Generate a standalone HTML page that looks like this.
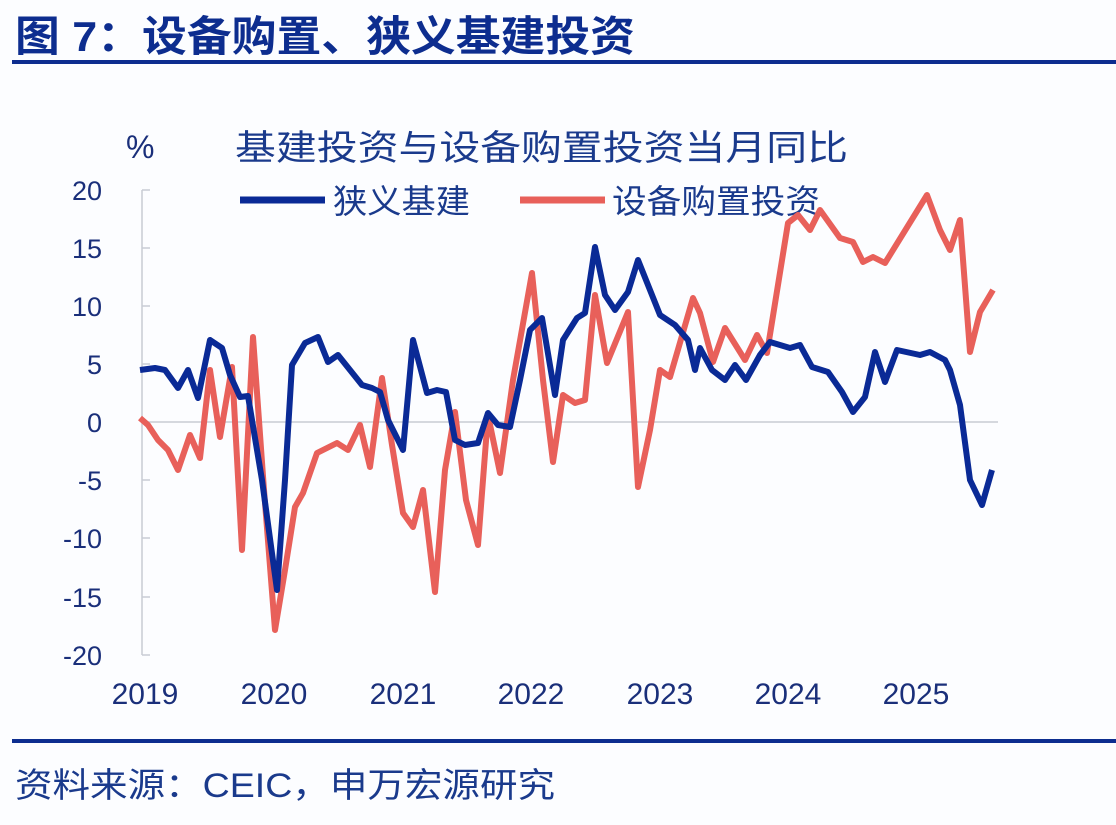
<!DOCTYPE html>
<html><head><meta charset="utf-8"><style>
html,body{margin:0;padding:0;background:#fcfdff;}
body{width:1116px;height:820px;overflow:hidden;}
</style></head><body>
<svg width="1116" height="820" xmlns="http://www.w3.org/2000/svg" style="font-family:'Liberation Sans','Noto Sans CJK SC',sans-serif">
<rect width="1116" height="820" fill="#fcfdff"/>
<text x="15" y="51" font-size="42" font-weight="bold" fill="#0d2d8f" textLength="620" lengthAdjust="spacingAndGlyphs">图 7：设备购置、狭义基建投资</text>
<rect x="12" y="60" width="1104" height="4" fill="#0d2d8f"/>
<text x="126" y="158" font-size="32" fill="#1a2f7a">%</text>
<text x="235" y="160" font-size="35" fill="#1a3a8c" textLength="613" lengthAdjust="spacingAndGlyphs">基建投资与设备购置投资当月同比</text>
<line x1="240" y1="200" x2="325" y2="200" stroke="#0a2a96" stroke-width="7"/>
<text x="333" y="213" font-size="33" fill="#1a3a8c" textLength="137" lengthAdjust="spacingAndGlyphs">狭义基建</text>
<line x1="520" y1="200" x2="605" y2="200" stroke="#e8605a" stroke-width="7"/>
<text x="612" y="213" font-size="33" fill="#1a3a8c" textLength="208" lengthAdjust="spacingAndGlyphs">设备购置投资</text>
<g font-size="27" fill="#1a2f7a" text-anchor="end">
<text x="102" y="200">20</text><text x="102" y="258">15</text><text x="102" y="316">10</text><text x="102" y="374">5</text><text x="102" y="432">0</text><text x="102" y="490">-5</text><text x="102" y="548">-10</text><text x="102" y="607">-15</text><text x="102" y="665">-20</text>
</g>
<g stroke="#c8ccd4" stroke-width="1.5">
<line x1="142" y1="190" x2="142" y2="655"/>
<line x1="142" y1="190" x2="150" y2="190"/><line x1="142" y1="248" x2="150" y2="248"/><line x1="142" y1="306" x2="150" y2="306"/><line x1="142" y1="364" x2="150" y2="364"/><line x1="142" y1="480" x2="150" y2="480"/><line x1="142" y1="538" x2="150" y2="538"/><line x1="142" y1="597" x2="150" y2="597"/><line x1="142" y1="655" x2="150" y2="655"/>
<line x1="142" y1="422" x2="998" y2="422"/>
</g>
<g stroke="#c8ccd4" stroke-width="1.2" id="ticks"></g>
<g font-size="30" fill="#1a2f7a" text-anchor="middle">
<text x="145" y="704">2019</text><text x="274" y="704">2020</text><text x="403" y="704">2021</text><text x="531" y="704">2022</text><text x="660" y="704">2023</text><text x="788" y="704">2024</text><text x="916" y="704">2025</text>
</g>
<polyline fill="none" stroke="#e8605a" stroke-width="6" stroke-linejoin="round" points="140,418 148,425 158,440 168,450 178,470 190,435 200,458 210,370 220,437 232,367 242,550 253,337 264,490 275,630 285,570 295,507 303,493 317,453 337,443 348,450 360,425 370,467 382,378 392,445 403,513 413,527 423,490 435,592 445,470 455,412 466,500 478,545 488,415 500,473 513,380 532,273 543,380 553,462 563,395 575,403 585,400 595,295 607,363 628,312 638,487 650,430 660,370 670,377 693,298 700,313 713,362 725,328 745,360 757,335 767,353 788,223 798,215 810,230 820,210 840,238 853,242 863,262 873,257 885,263 927,195 940,230 950,250 960,220 970,352 980,312 993,290"/>
<polyline fill="none" stroke="#0a2a96" stroke-width="6" stroke-linejoin="round" points="140,370 155,368 165,370 178,388 188,370 198,398 210,340 222,348 230,375 240,397 248,396 262,480 277,590 285,480 292,365 305,343 318,337 328,362 338,355 350,370 362,385 372,388 380,392 388,420 398,440 403,450 413,340 427,393 437,390 446,392 455,440 465,445 478,443 488,413 498,425 510,427 520,380 530,330 542,318 555,395 563,340 577,318 585,313 595,247 605,295 615,310 628,292 638,260 650,290 660,315 675,325 688,340 695,370 700,348 712,370 725,380 735,365 746,380 760,355 770,342 790,348 800,345 812,367 828,372 842,392 853,412 865,397 875,352 885,382 897,350 920,355 930,352 945,360 950,370 960,405 970,480 982,505 992,470"/>
<rect x="12" y="739" width="1104" height="4" fill="#0d2d8f"/>
<text x="15" y="797" font-size="34" fill="#1a3a8c" textLength="540" lengthAdjust="spacingAndGlyphs">资料来源：CEIC，申万宏源研究</text>
<script>
var g=document.getElementById('ticks');var s='';
for(var i=0;i<=80;i++){var x=140+10.7*i;var l=(i%12==0)?12:5;s+='<line x1="'+x+'" y1="422" x2="'+x+'" y2="'+(422+l)+'"/>';if(i%12==0)s+='<line x1="'+x+'" y1="414" x2="'+x+'" y2="422"/>';}
g.innerHTML=s;
</script>
</svg>
</body></html>
